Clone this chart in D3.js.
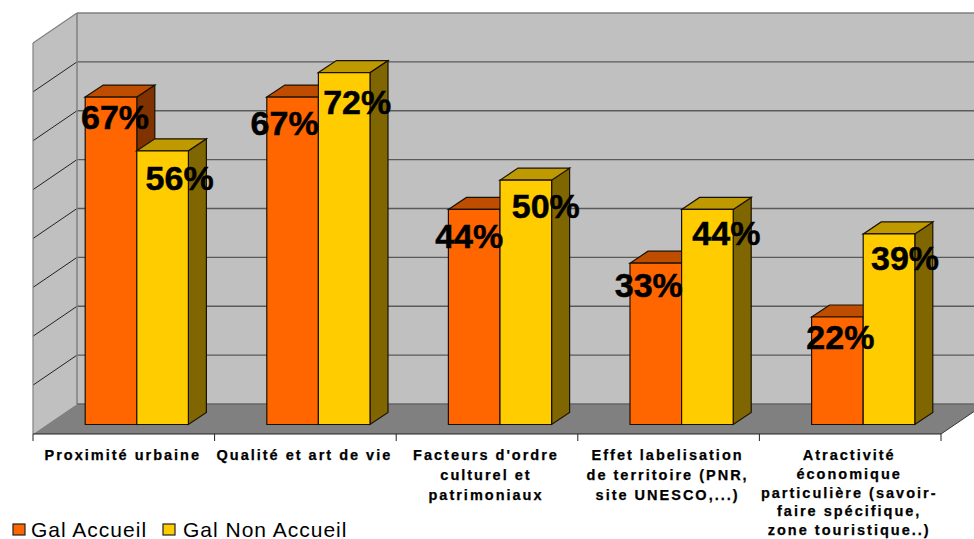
<!DOCTYPE html>
<html><head><meta charset="utf-8">
<script src="https://cdn.jsdelivr.net/npm/d3@7"></script>
<style>html,body{margin:0;padding:0;background:#fff}svg{display:block}</style>
</head><body><svg id="c" width="974" height="539"></svg>
<script>
const categories=[
 ["Proximité urbaine"],
 ["Qualité et art de vie"],
 ["Facteurs d'ordre","culturel et","patrimoniaux"],
 ["Effet labelisation","de territoire (PNR,","site UNESCO,...)"],
 ["Atractivité","économique","particulière (savoir-","faire spécifique,","zone touristique..)"]
];
const seriesNames=["Gal Accueil","Gal Non Accueil"];
const galAccueil=[67,67,44,33,22];
const galNonAccueil=[56,72,50,44,39];
const yTicks=[0,10,20,30,40,50,60,70,80];

const fills=[{front:"#ff6600",top:"#bf4d00",side:"#803300"},{front:"#ffcc00",top:"#bf9900",side:"#806600"}];
const labelShift=[[[4,32],[17,39]],[[-8,38],[13,41]],[[-5,39],[20,38]],[[-7,34],[19,36]],[[3,32],[16,36]]];

const svg=d3.select("#c");
const X0=33,X1=941,Yb=434,Yt=43,Dx=44,Dy=-30,dx=18,dy=-12;
const x=d3.scaleBand().domain(d3.range(categories.length)).range([X0,X1]);
const y=d3.scaleLinear().domain([0,80]).range([Yb,Yt]);
const poly=(pts,f,s,w)=>svg.append("polygon").attr("points",pts.map(p=>p.join(",")).join(" ")).attr("fill",f).attr("stroke",s||"none").attr("stroke-width",w||1).attr("stroke-linejoin","miter");
const line=(a,b,c,w)=>svg.append("line").attr("x1",a[0]).attr("y1",a[1]).attr("x2",b[0]).attr("y2",b[1]).attr("stroke",c).attr("stroke-width",w);

// walls
poly([[X0+Dx,Yt+Dy],[X1+Dx,Yt+Dy],[X1+Dx,Yb+Dy],[X0+Dx,Yb+Dy]],"#c0c0c0");
poly([[X0,Yt],[X0+Dx,Yt+Dy],[X0+Dx,Yb+Dy],[X0,Yb]],"#c0c0c0");
// floor
poly([[X0,Yb],[X1,Yb],[X1+Dx,Yb+Dy],[X0+Dx,Yb+Dy]],"#808080");
// gridlines
yTicks.forEach(t=>{
  if(t===0||t===80)return;
  line([X0,y(t)],[X0+Dx,y(t)+Dy],"#222",1);
  line([X0+Dx,y(t)+Dy],[974,y(t)+Dy],"#5a5a5a",1.4);
});
line([X0+Dx,Yt+Dy],[974,Yt+Dy],"#808080",1.5);
line([X0+Dx,Yt+Dy],[X0+Dx,Yb+Dy],"#808080",1.5);
line([X0,Yt],[X0+Dx,Yt+Dy],"#808080",1.2);
line([X0,Yt],[X0,Yb],"#808080",1.2);
line([X0+Dx,Yb+Dy],[974,Yb+Dy],"#666",1.4);
line([X1,Yb],[X1+Dx,Yb+Dy],"#333",1);

// bars
const barW=51.6, baseInset=9.5, barShift=13;
const y0=Yb-baseInset;
function bar(i,s,v){
  const cx=x(i)+x.bandwidth()/2+barShift;
  const l=cx+(s-1)*barW, r=l+barW;
  const t=y0-(y(0)-y(v));
  const c=fills[s];
  const st="#1a1200";
  poly([[r,t],[r+dx,t+dy],[r+dx,y0+dy],[r,y0]],c.side,st,1.2);
  poly([[l,t],[l+dx,t+dy],[r+dx,t+dy],[r,t]],c.top,st,1.2);
  poly([[l,t],[r,t],[r,y0],[l,y0]],c.front,st,1.2);
}
categories.forEach((_,i)=>{bar(i,0,galAccueil[i]);bar(i,1,galNonAccueil[i]);});
// axis baseline and ticks
line([X0,Yb],[X1,Yb],"#222",1.2);
x.domain().forEach(i=>line([x(i),Yb],[x(i),Yb+7],"#222",1));
line([X1,Yb],[X1,Yb+7],"#222",1);

// category labels
categories.forEach((lines,i)=>{
  lines.forEach((s,j)=>{
    svg.append("text").attr("x",x(i)+x.bandwidth()/2-1).attr("y",460+j*(i===4?18.8:20))
      .attr("text-anchor","middle").attr("font-family","Liberation Sans, Arial, sans-serif")
      .attr("font-weight","700").attr("font-size",14.5).attr("letter-spacing",2).attr("fill","#000")
      .attr("stroke","#000").attr("stroke-width",0.25).text(s);
  });
});

// data labels
[galAccueil,galNonAccueil].forEach((arr,s)=>arr.forEach((v,i)=>{
  const cx=x(i)+x.bandwidth()/2+barShift+(s-1+0.5)*barW;
  svg.append("text").attr("x",cx+labelShift[i][s][0]).attr("y",y0-(y(0)-y(v))+labelShift[i][s][1])
   .attr("text-anchor","middle").attr("font-family","Liberation Sans, Arial, sans-serif")
   .attr("font-weight","700").attr("font-size",34).attr("fill","#000")
   .attr("stroke","#000").attr("stroke-width",0.5).text(v+"%");
}));

// legend
const legX=[13,163], legTextX=[31,183];
seriesNames.forEach((n,i)=>{
  svg.append("rect").attr("x",legX[i]).attr("y",524).attr("width",12).attr("height",11).attr("fill",fills[i].front).attr("stroke","#222").attr("stroke-width",1.2);
  svg.append("text").attr("x",legTextX[i]).attr("y",536.5).attr("font-family","Liberation Sans, Arial, sans-serif").attr("font-size",21).attr("letter-spacing",1).attr("fill","#000").text(n);
});
</script></body></html>
